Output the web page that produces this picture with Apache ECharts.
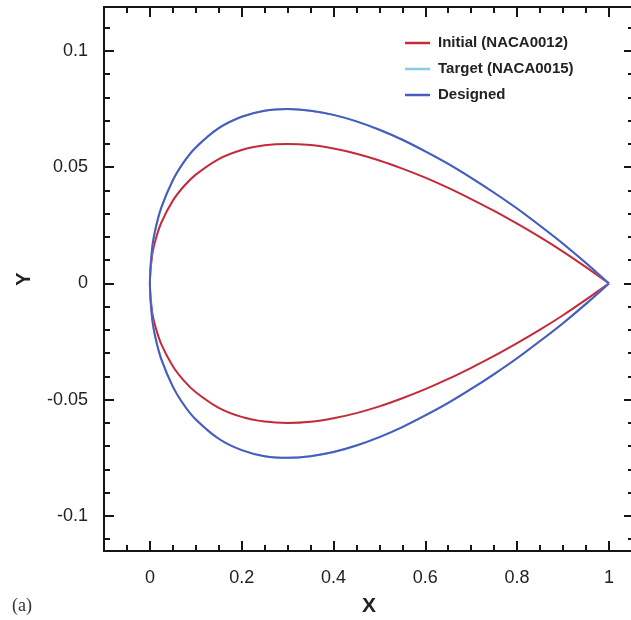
<!DOCTYPE html>
<html>
<head>
<meta charset="utf-8">
<script src="https://cdn.jsdelivr.net/npm/echarts@6/dist/echarts.min.js"></script>
<style>
html,body{margin:0;padding:0;background:#fff;}
#chart{width:631px;height:620px;}
</style>
</head>
<body>
<div id="chart"></div>
<script>
// chord stations (x/c)
var stations = [0, 0.005, 0.0125, 0.025, 0.05, 0.075, 0.1, 0.15, 0.2, 0.25, 0.3, 0.35, 0.4, 0.45, 0.5, 0.55, 0.6, 0.65, 0.7, 0.75, 0.8, 0.85, 0.9, 0.95, 1];
// Initial (NACA0012)
var initialUpper = [0, 0.0122, 0.0189, 0.0262, 0.0356, 0.0420, 0.0468, 0.0535, 0.0574, 0.0594, 0.0600, 0.0595, 0.0580, 0.0558, 0.0529, 0.0494, 0.0455, 0.0411, 0.0363, 0.0312, 0.0257, 0.0199, 0.0137, 0.0070, 0];
var initialLower = [0, -0.0122, -0.0189, -0.0262, -0.0356, -0.0420, -0.0468, -0.0535, -0.0574, -0.0594, -0.0600, -0.0595, -0.0580, -0.0558, -0.0529, -0.0494, -0.0455, -0.0411, -0.0363, -0.0312, -0.0257, -0.0199, -0.0137, -0.0070, 0];
// Target (NACA0015)
var targetUpper = [0, 0.0153, 0.0237, 0.0327, 0.0444, 0.0525, 0.0585, 0.0668, 0.0717, 0.0743, 0.0750, 0.0743, 0.0725, 0.0697, 0.0661, 0.0618, 0.0568, 0.0514, 0.0454, 0.0390, 0.0322, 0.0248, 0.0171, 0.0088, 0];
var targetLower = [0, -0.0153, -0.0237, -0.0327, -0.0444, -0.0525, -0.0585, -0.0668, -0.0717, -0.0743, -0.0750, -0.0743, -0.0725, -0.0697, -0.0661, -0.0618, -0.0568, -0.0514, -0.0454, -0.0390, -0.0322, -0.0248, -0.0171, -0.0088, 0];
// Designed
var designedUpper = [0, 0.0153, 0.0237, 0.0327, 0.0444, 0.0525, 0.0585, 0.0668, 0.0717, 0.0743, 0.0750, 0.0743, 0.0725, 0.0697, 0.0661, 0.0618, 0.0568, 0.0514, 0.0454, 0.0390, 0.0322, 0.0248, 0.0171, 0.0088, 0];
var designedLower = [0, -0.0153, -0.0237, -0.0327, -0.0444, -0.0525, -0.0585, -0.0668, -0.0717, -0.0743, -0.0750, -0.0743, -0.0725, -0.0697, -0.0661, -0.0618, -0.0568, -0.0514, -0.0454, -0.0390, -0.0322, -0.0248, -0.0171, -0.0088, 0];

var seriesNames = ['Initial (NACA0012)', 'Target (NACA0015)', 'Designed'];
var xMajorTicks = [0, 0.2, 0.4, 0.6, 0.8, 1];
var xMinorTicks = [-0.05, 0.05, 0.1, 0.15, 0.25, 0.3, 0.35, 0.45, 0.5, 0.55, 0.65, 0.7, 0.75, 0.85, 0.9, 0.95];
var yMajorTicks = [-0.1, -0.05, 0, 0.05, 0.1];
var yMinorTicks = [-0.11, -0.09, -0.08, -0.07, -0.06, -0.04, -0.03, -0.02, -0.01, 0.01, 0.02, 0.03, 0.04, 0.06, 0.07, 0.08, 0.09, 0.11];

var X_MIN = -0.1, X_MAX = 1.0547, Y_MIN = -0.1151, Y_MAX = 0.1189;

function closedCurve(upper, lower) {
  var pts = [];
  for (var i = stations.length - 1; i >= 0; i--) pts.push([stations[i], upper[i]]);
  for (var j = 1; j < stations.length; j++) pts.push([stations[j], lower[j]]);
  return pts;
}

var AX = '#151515';
var FONT = 'Liberation Sans, Arial, sans-serif';
function xAx(pos, ticks, len, labels, name) {
  return {
    type: 'value', position: pos, min: X_MIN, max: X_MAX,
    axisLine: {show: true, onZero: false, lineStyle: {color: AX, width: 2}},
    axisTick: {show: true, inside: true, length: len, customValues: ticks, lineStyle: {color: AX, width: 2}},
    axisLabel: labels ? {show: true, customValues: ticks, margin: 18, fontSize: 18, color: '#222', fontFamily: FONT} : {show: false},
    splitLine: {show: false},
    name: name || '', nameLocation: 'middle', nameGap: 45,
    nameTextStyle: {fontSize: 21, fontWeight: 'bold', color: '#222', fontFamily: FONT}
  };
}
function yAx(pos, ticks, len, labels, name) {
  return {
    type: 'value', position: pos, min: Y_MIN, max: Y_MAX,
    axisLine: {show: true, onZero: false, lineStyle: {color: AX, width: 2}},
    axisTick: {show: true, inside: true, length: len, customValues: ticks, lineStyle: {color: AX, width: 2}},
    axisLabel: labels ? {show: true, customValues: ticks, margin: 16, fontSize: 18, color: '#222', fontFamily: FONT} : {show: false},
    splitLine: {show: false},
    name: name || '', nameLocation: 'middle', nameRotate: 90, nameGap: 70,
    nameTextStyle: {fontSize: 20, fontWeight: 'bold', color: '#222', fontFamily: FONT}
  };
}

var colors = ['#c42b3a', '#86cfe3', '#4a5bc0'];
var curves = [
  closedCurve(initialUpper, initialLower),
  closedCurve(targetUpper, targetLower),
  closedCurve(designedUpper, designedLower)
];

var chart = echarts.init(document.getElementById('chart'), null, {renderer: 'canvas'});
chart.setOption({
  animation: false,
  backgroundColor: '#fff',
  grid: {left: 104, right: -3, top: 7, bottom: 69, containLabel: false, outerBoundsMode: 'none'},
  xAxis: [
    xAx('bottom', xMajorTicks, 10, true, 'X'),
    xAx('bottom', xMinorTicks, 6, false),
    xAx('top', xMajorTicks, 10, false),
    xAx('top', xMinorTicks, 6, false)
  ],
  yAxis: [
    yAx('left', yMajorTicks, 10, true, 'Y'),
    yAx('left', yMinorTicks, 6, false),
    yAx('right', yMajorTicks, 10, false),
    yAx('right', yMinorTicks, 6, false)
  ],
  legend: {
    orient: 'vertical', left: 400, top: 29,
    itemWidth: 25, itemHeight: 2.5, itemGap: 8, icon: 'rect',
    textStyle: {fontSize: 15, fontWeight: 'bold', color: '#222', lineHeight: 18, padding: [0, 0, 0, 3], fontFamily: FONT},
    data: seriesNames
  },
  graphic: [{
    type: 'text', left: 12, top: 597,
    style: {text: '(a)', fontSize: 18, fill: '#333', fontFamily: 'Liberation Serif, Times New Roman, serif'}
  }],
  series: seriesNames.map(function (n, i) {
    return {
      name: n, type: 'line', xAxisIndex: 0, yAxisIndex: 0,
      data: curves[i], showSymbol: false, symbol: 'none', smooth: 0.3,
      color: colors[i],
      lineStyle: {width: 2, color: colors[i]},
      z: 2 + i
    };
  })
});
</script>
</body>
</html>
